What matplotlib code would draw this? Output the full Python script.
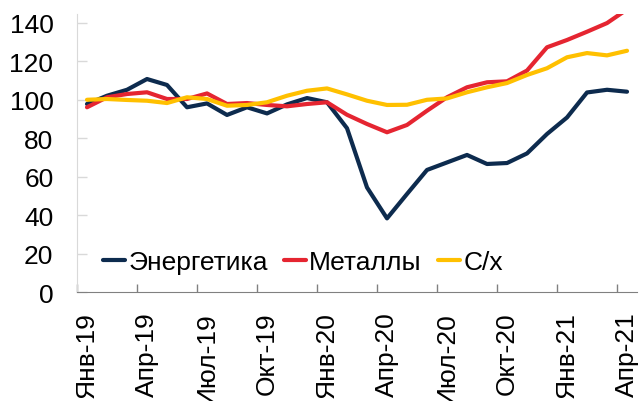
import matplotlib
matplotlib.use("Agg")
import matplotlib.pyplot as plt

plt.rcParams['font.family'] = ['Liberation Sans', 'DejaVu Sans']

months = ['Янв-19', 'Фев-19', 'Мар-19', 'Апр-19', 'Май-19', 'Июн-19', 'Июл-19',
          'Авг-19', 'Сен-19', 'Окт-19', 'Ноя-19', 'Дек-19',
          'Янв-20', 'Фев-20', 'Мар-20', 'Апр-20', 'Май-20', 'Июн-20', 'Июл-20',
          'Авг-20', 'Сен-20', 'Окт-20', 'Ноя-20', 'Дек-20',
          'Янв-21', 'Фев-21', 'Мар-21', 'Апр-21']

energy = [97.8, 102.1, 105.2, 110.8, 107.7, 96.1, 98.1, 92.1, 96.1, 92.9, 97.6, 100.9,
          98.7, 85.2, 54.4, 38.3, 51.0, 63.5, 67.4, 71.3, 66.6, 67.1, 72.1, 82.2,
          90.8, 103.8, 105.2, 104.2]
metals = [96.1, 101.3, 103.0, 103.9, 100.4, 100.4, 103.3, 97.8, 98.3, 97.3, 96.6, 97.8,
          98.7, 92.2, 87.4, 83.1, 86.9, 94.3, 101.3, 106.5, 109.1, 109.6, 115.2, 127.3,
          131.1, 135.4, 139.9, 147.0]
agro = [100.0, 100.4, 99.9, 99.5, 98.3, 101.3, 100.4, 96.9, 97.3, 98.7, 102.1, 104.7,
        105.9, 102.8, 99.5, 97.3, 97.4, 100.0, 100.7, 103.9, 106.5, 108.7, 112.9, 116.4,
        122.1, 124.3, 123.1, 125.5]

x = list(range(len(months)))
fs = 19

fig = plt.figure(figsize=(6.39, 4.02), dpi=100)
ax = fig.add_axes([0.1205, 0.2711, 0.8764, 0.6915])

ax.plot(x, energy, color='#0D2B4E', lw=3, label='Энергетика', solid_capstyle='round')
ax.plot(x, metals, color='#E52531', lw=3, label='Металлы', solid_capstyle='round')
ax.plot(x, agro, color='#FFC000', lw=3, label='С/х', solid_capstyle='round')

ax.set_xlim(-0.5, len(months) - 0.5)
ax.set_ylim(0, 144.6)
ax.set_yticks(range(0, 141, 20))

# labels every 3 months at category centre, ticks at category boundaries
ax.set_xticks(x[::3])
ax.set_xticklabels(months[::3], rotation=90, fontsize=fs)
ax.tick_params(axis='x', length=0, pad=14)
ax.set_xticks([i - 0.5 for i in range(0, len(months) + 1, 3)], minor=True)
ax.tick_params(axis='x', which='minor', direction='in', length=6, color='#808080', width=1)
ax.tick_params(axis='y', direction='in', length=7, color='#D9D9D9', width=1,
               labelsize=fs, pad=17)

for s in ['top', 'right']:
    ax.spines[s].set_visible(False)
ax.spines['left'].set_color('#D9D9D9')
ax.spines['bottom'].set_color('#808080')

ax.legend(loc='center left', bbox_to_anchor=(0.046, 0.108), ncol=3, frameon=False,
          fontsize=fs, handlelength=0.85, handletextpad=0.12, columnspacing=0.6,
          borderpad=0, borderaxespad=0)

fig.savefig('out.png', dpi=100)
